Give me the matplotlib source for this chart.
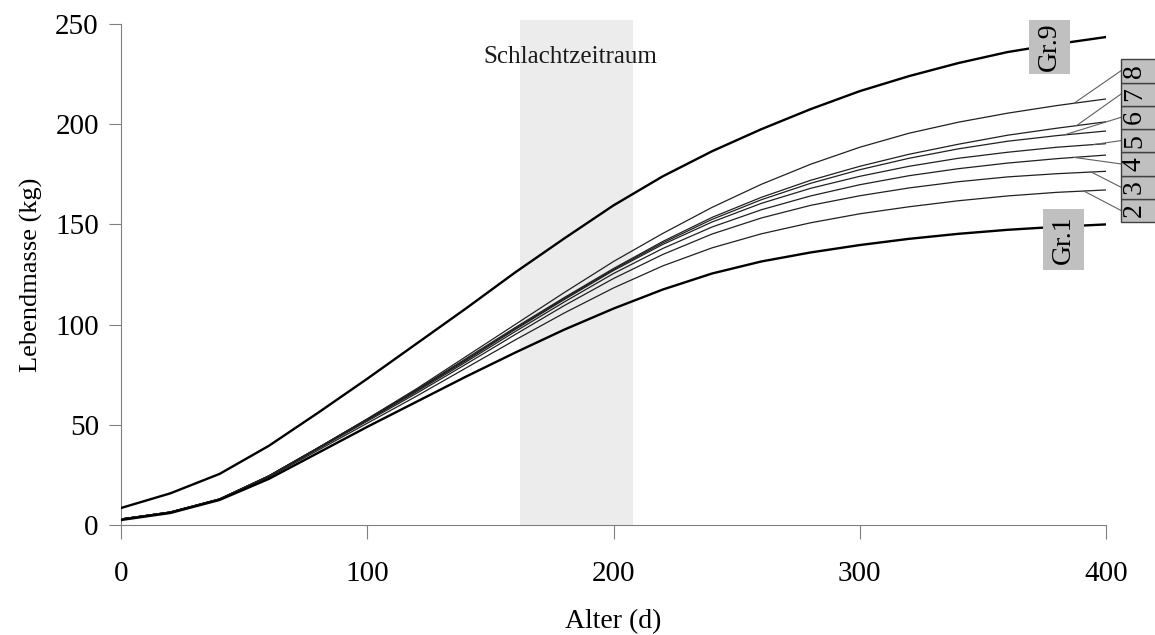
import numpy as np
import matplotlib.pyplot as plt
from matplotlib.patches import Rectangle

# Alter in Tagen
days = [0, 20, 40, 60, 80, 100, 120, 140, 160, 180, 200,
        220, 240, 260, 280, 300, 320, 340, 360, 380, 400]

# Lebendmasse (kg) je Gruppe
gr1 = [2.5, 6, 12.5, 23, 36, 49, 61.5, 74, 86, 97.5, 108,
       117.5, 125.5, 131.5, 136, 139.7, 142.8, 145.3, 147.3, 148.8, 150]
gr2 = [3, 6.3, 12.7, 23.8, 37.3, 50.8, 64.3, 78.3, 92.3, 105.8, 118.3,
       129.3, 138.3, 145.3, 150.8, 155.3, 158.8, 161.8, 164.2, 166, 167.2]
gr3 = [3, 6.4, 12.9, 24.2, 38, 51.8, 65.7, 80.2, 95, 109.5, 123,
       135, 145.2, 153.2, 159.5, 164.3, 168.2, 171.3, 173.7, 175.3, 176.5]
gr4 = [3, 6.4, 12.9, 24.3, 38.3, 52.3, 66.5, 81.3, 96.5, 111.3, 125.5,
       138, 148.7, 157.3, 164.2, 169.8, 174.3, 177.8, 180.6, 182.8, 184.6]
gr5 = [3, 6.5, 13, 24.5, 38.5, 52.7, 67, 82, 97.5, 112.5, 127,
       140, 151.2, 160.5, 168, 174, 179, 183, 186, 188.5, 190.3]
gr6 = [3, 6.5, 13, 24.5, 38.5, 52.8, 67.3, 82.5, 98, 113, 127.5,
       140.8, 152.5, 162.3, 170.5, 177.3, 183, 187.7, 191.5, 194.3, 196.6]
gr7 = [3, 6.5, 13, 24.5, 38.5, 52.8, 67.5, 83, 98.5, 113.5, 128,
       141.5, 153.5, 163.5, 172, 179, 185, 190, 194.5, 198, 201.2]
gr8 = [3, 6.5, 13, 24.5, 38.5, 53, 68, 84, 100, 116, 131.5,
       145.5, 158.5, 170, 180, 188.5, 195.5, 201, 205.5, 209.3, 212.6]
gr9 = [8.5, 15.8, 25.5, 39.5, 56, 73, 90.5, 108, 126, 143, 159.5,
       174, 186.5, 197.5, 207.5, 216.5, 224, 230.5, 236, 240, 243.5]

slaughter = (162, 208)
middle = [gr2, gr3, gr4, gr5, gr6, gr7, gr8]
middle_names = ['2', '3', '4', '5', '6', '7', '8']
# x-Stelle, an der die Hinweislinie die Kurve trifft
leader_x = [391, 394, 387, 395, 383, 388, 387]

plt.rcParams['font.family'] = 'Liberation Serif'

fig = plt.figure(figsize=(11.55, 6.35), dpi=100)
ax = fig.add_axes([0.1048, 0.1732, 0.8528, 0.789])

ax.axvspan(slaughter[0], slaughter[1], ymin=0, ymax=1.008, color='#ececec',
           lw=0, zorder=0, clip_on=False)
ax.text(182.3, 233.5, 'Schlachtzeitraum', ha='center', va='center',
        fontsize=18, color='#1a1a1a')

for s in middle:
    ax.plot(days, s, color='#202020', lw=0.9, zorder=2)
ax.plot(days, gr1, color='black', lw=1.7, zorder=3)
ax.plot(days, gr9, color='black', lw=1.7, zorder=3)

# Beschriftungsfelder Gr.9 und Gr.1
for (x0, y0, w, h, txt) in [(368.7, 225, 16.7, 27, 'Gr.9'), (374.4, 127.2, 16.7, 30.5, 'Gr.1')]:
    ax.add_patch(Rectangle((x0, y0), w, h, facecolor='#c0c0c0', edgecolor='none',
                           zorder=5, clip_on=False))
    ax.text(x0 + w / 2, y0 + h / 2, txt, rotation=90, ha='center', va='center',
            fontsize=20, zorder=6, clip_on=False)

# Zahlenkasten 2..8 rechts
cell_h = 11.6
box_x = 406
box_bottom = 151.2
for i, (name, s, lx) in enumerate(zip(middle_names, middle, leader_x)):
    yb = box_bottom + i * cell_h
    ax.add_patch(Rectangle((box_x, yb), 16, cell_h, facecolor='#c0c0c0',
                           edgecolor='#404040', lw=1, zorder=5, clip_on=False))
    ax.text(box_x + 5.5, yb + cell_h / 2, name, rotation=90, ha='center', va='center',
            fontsize=20, zorder=6, clip_on=False)
    ly = np.interp(lx, days, s)
    ax.plot([lx, box_x], [ly, yb + cell_h / 2], color='#606060', lw=0.8,
            zorder=4, clip_on=False)

ax.set_xlim(0, 400)
ax.set_ylim(0, 250)
ax.set_xticks([0, 100, 200, 300, 400])
ax.set_yticks([0, 50, 100, 150, 200, 250])
for side in ['top', 'right']:
    ax.spines[side].set_visible(False)
for side in ['left', 'bottom']:
    ax.spines[side].set_color('#808080')
ax.tick_params(axis='x', direction='out', length=10, color='#808080', labelsize=21, pad=16)
ax.tick_params(axis='y', direction='out', length=9, color='#808080', labelsize=21, pad=7)
ax.set_xlabel('Alter (d)', fontsize=20, labelpad=16)
ax.set_ylabel('Lebendmasse (kg)', fontsize=19, labelpad=9)

fig.savefig('out.png', dpi=100)
